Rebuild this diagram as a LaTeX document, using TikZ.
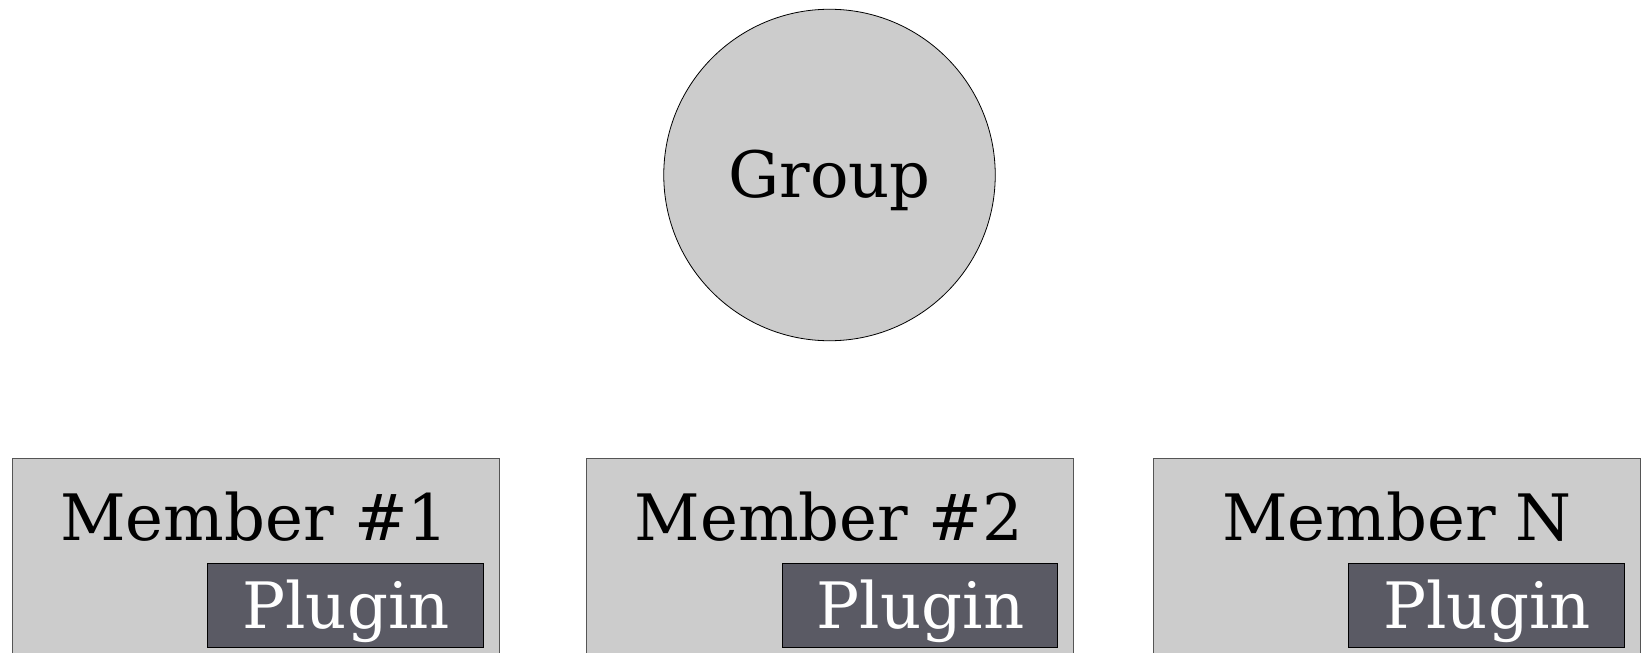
\documentclass[tikz,border=0pt]{standalone}
\usepackage{fontspec}
\setmainfont{DejaVu Serif}
\definecolor{boxgrey}{HTML}{CCCCCC}
\definecolor{plugdark}{HTML}{5A5A64}
\definecolor{edgegrey}{HTML}{555555}
\begin{document}
\begin{tikzpicture}[x=1bp,y=-1bp,
  bigtext/.style={font=\fontsize{64bp}{72bp}\selectfont, inner sep=0pt, anchor=base},
  circ/.style={circle, draw=black, line width=0.8bp, fill=boxgrey, minimum size=331.5bp, inner sep=0pt},
  memberbox/.style={rectangle, draw=edgegrey, line width=1bp, fill=boxgrey, minimum width=487.3bp, minimum height=260bp, anchor=north west, inner sep=0pt},
  pluginbox/.style={rectangle, draw=black, line width=0.8bp, fill=plugdark, minimum width=275.4bp, minimum height=84bp, anchor=north west, inner sep=0pt},
]
\useasboundingbox (0,0) rectangle (1641,653);
\clip (0,0) rectangle (1641,653);
% Group
\node[circ] (grp) at (829.5,175) {};
\node[bigtext] (grplbl) at (829.5,197.3) {Group};
% Members
\node[memberbox] (m1) at (11.7,458.3) {};
\node[memberbox] (m2) at (586,458.3) {};
\node[memberbox] (mn) at (1152.7,458.3) {};
\node[bigtext] (m1lbl) at (254.5,540) {Member \#1};
\node[bigtext] (m2lbl) at (829,540) {Member \#2};
\node[bigtext] (mnlbl) at (1397,540) {Member N};
% Plugins
\node[pluginbox] (p1) at (207.3,563.3) {};
\node[pluginbox] (p2) at (781.8,563.3) {};
\node[pluginbox] (pn) at (1348.3,563.3) {};
\node[bigtext, text=white] (p1lbl) at (346,628.3) {Plugin};
\node[bigtext, text=white] (p2lbl) at (920.5,628.3) {Plugin};
\node[bigtext, text=white] (pnlbl) at (1487,628.3) {Plugin};
\end{tikzpicture}
\end{document}
